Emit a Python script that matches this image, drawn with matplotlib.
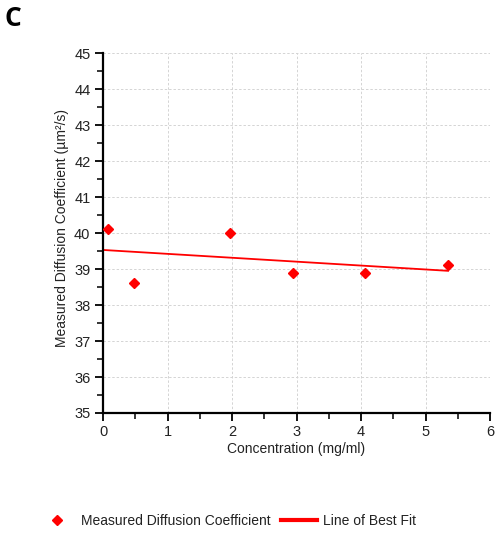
import matplotlib.pyplot as plt
from matplotlib.lines import Line2D
from matplotlib.ticker import MultipleLocator

plt.rcParams['font.family'] = ['Liberation Sans', 'DejaVu Sans']

# data
conc = [0.08, 0.48, 1.97, 2.95, 4.06, 5.35]
diff_coeff = [40.1, 38.6, 40.0, 38.9, 38.9, 39.1]
fit_x = [0.0, 5.35]
fit_y = [39.53, 38.95]

fig = plt.figure(figsize=(5, 5.34), dpi=100)
ax = fig.add_axes([0.206, 0.2266, 0.774, 0.674])

ax.plot(conc, diff_coeff, linestyle='none', marker='D', ms=5.5, color='red', zorder=3)
ax.plot(fit_x, fit_y, color='red', lw=1.3, zorder=2)

ax.set_xlim(0, 6)
ax.set_ylim(35, 45)
ax.xaxis.set_major_locator(MultipleLocator(1))
ax.xaxis.set_minor_locator(MultipleLocator(0.5))
ax.yaxis.set_major_locator(MultipleLocator(1))
ax.yaxis.set_minor_locator(MultipleLocator(0.5))

ax.grid(True, which='major', color='#d4d4d4', linestyle=(0, (2.5, 2)), lw=0.7)
ax.set_axisbelow(True)
for s in ['top', 'right']:
    ax.spines[s].set_visible(False)
for s in ['left', 'bottom']:
    ax.spines[s].set_linewidth(1.6)
ax.tick_params(which='major', length=6, width=1.3, labelsize=10.5, pad=3,
               colors='black', labelcolor='#222222')
ax.tick_params(which='minor', length=4, width=1.1)

ax.set_xlabel('Concentration (mg/ml)', fontsize=10, labelpad=2, color='#222222')
ax.set_ylabel('Measured Diffusion Coefficient (µm²/s)', fontsize=10, color='#222222')
ax.yaxis.set_label_coords(-0.088, 0.514)

fig.text(0.008, 0.966, 'C', fontsize=19, fontweight='bold', va='center',
         family=['Open Sans', 'DejaVu Sans'])

handles = [
    Line2D([], [], linestyle='none', marker='D', ms=5.5, color='red'),
    Line2D([], [], color='red', lw=3),
]
fig.legend(handles, ['Measured Diffusion Coefficient', 'Line of Best Fit'],
           loc='center', bbox_to_anchor=(0.455, 0.025), ncol=2, frameon=False,
           fontsize=10, handlelength=2.65, columnspacing=0.7, handletextpad=0.4,
           labelcolor='#222222')

fig.savefig('out.png', dpi=100)
